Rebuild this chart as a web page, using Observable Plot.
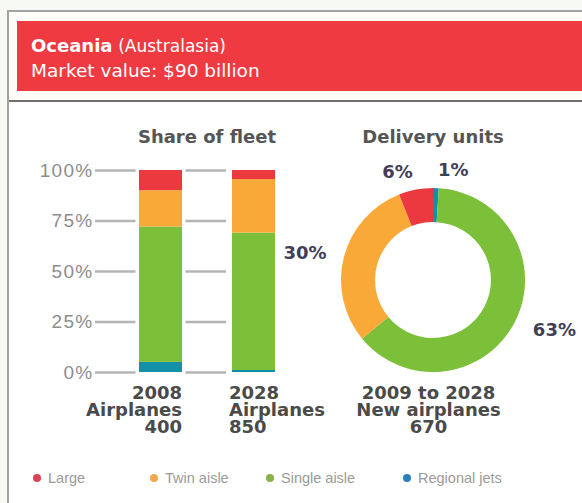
<!DOCTYPE html>
<html><head><meta charset="utf-8">
<script src="https://cdn.jsdelivr.net/npm/d3@7"></script>
<script src="https://cdn.jsdelivr.net/npm/@observablehq/plot@0.6"></script>
<style>
html,body{margin:0;padding:0;background:#f7f9f5;}
#root{position:relative;width:582px;height:503px;overflow:hidden;font-family:"DejaVu Sans",sans-serif;}
#frame{position:absolute;left:7px;top:10px;width:620px;height:540px;border:2px solid #a3a3a3;background:#fdfcf6;}
#panel{position:absolute;left:9px;top:100px;width:620px;height:420px;background:#fff;border-top:2px solid #6f6f6f;}
#header{position:absolute;left:17px;top:21px;width:620px;height:70px;background:#ee3a40;color:#fff;}
#header .l1{position:absolute;left:14px;top:14px;font-size:18px;white-space:nowrap;}
#header .l1 b{font-weight:bold;}
#header .l1 span{font-size:17px;}
#header .l2{position:absolute;left:14px;top:39px;font-size:18.5px;white-space:nowrap;}
.title{position:absolute;top:126px;transform:translateX(-50%);font-weight:bold;font-size:18px;color:#555;white-space:nowrap;}
#bars{position:absolute;left:0;top:110px;}
#bars g[aria-label="y-axis tick label"] text{letter-spacing:1.3px;}
#donut{position:absolute;left:290px;top:110px;}
#legend{position:absolute;left:33px;top:470px;display:grid;grid-template-columns:117px 116px 137px auto;font-family:"Liberation Sans",Arial,sans-serif;font-size:14.5px;color:#9a9a9a;}
#legend .it{display:flex;align-items:center;white-space:nowrap;}
#legend .dot{width:8px;height:8px;border-radius:50%;margin-right:7px;}
svg{overflow:visible;}
</style>
</head><body>
<div id="root">
  <div id="frame"></div>
  <div id="panel"></div>
  <div id="header"><div class="l1"><b>Oceania</b> <span>(Australasia)</span></div><div class="l2">Market value: $90 billion</div></div>
  <div class="title" style="left:207px">Share of fleet</div>
  <div class="title" style="left:433px">Delivery units</div>
  <div id="bars"></div>
  <div id="donut"></div>
  <div id="legend"></div>
</div>
<script>
// ---- data ----
const categories = ["Large", "Twin aisle", "Single aisle", "Regional jets"];
const colors = ["#ec393f", "#f9a937", "#7cbf38", "#138fa8"];
const legendColors = ["#dc4257", "#f2a84e", "#86b24a", "#2a7fbf"];
const years = ["2008", "2028"];
const yearCaptions = ["Airplanes", "Airplanes"];
const fleetCounts = [400, 850];
const share2008 = [10, 18, 67, 5];
const share2028 = [4.5, 26.5, 68, 1];
const yTicks = [0, 25, 50, 75, 100];
const deliveryShare = [6, 30, 63, 1];
const deliveryCaption = ["2009 to 2028", "New airplanes", "670"];

const colorOf = c => colors[categories.indexOf(c)];

// ---- share of fleet (stacked bars) ----
const stackOrder = [...categories].reverse();
const shares = [share2008, share2028];
const rows = years.flatMap((yr, i) => stackOrder.map(c => ({year: yr, category: c, value: shares[i][categories.indexOf(c)]})));
const totals = years.map(yr => ({year: yr, value: 100}));
const barLabels = years.map((yr, i) => ({year: yr, v: 0, text: `${yr}\n${yearCaptions[i]}\n${fleetCounts[i]}`}));
const halfBar = 21;
const barLabelStyle = {x: "year", y: "v", text: "text", lineAnchor: "top", dy: 15, lineHeight: 0.93, fontSize: 18, fontWeight: "bold", fontFamily: "DejaVu Sans, sans-serif", fill: "#4a4a4a"};

const bars = Plot.plot({
  width: 300, height: 330,
  marginTop: 60, marginBottom: 68, marginLeft: 95, marginRight: 74,
  x: {domain: years, range: [138, 275], paddingInner: 0.54, paddingOuter: 0, axis: null},
  y: {domain: [0, 100], axis: null},
  color: {domain: categories, range: colors},
  style: {background: "transparent", overflow: "visible"},
  marks: [
    Plot.ruleY(yTicks, {stroke: "#b4b4b4", strokeWidth: 2.5}),
    Plot.axisY(yTicks, {tickSize: 0, tickPadding: 2, tickFormat: d => `${d}%`, fontSize: 19, fontFamily: "Liberation Sans, Arial, sans-serif", fill: "#8d8d8d", label: null}),
    Plot.barY(totals, {x: "year", y: "value", fill: "white", stroke: "white", strokeWidth: 7}),
    Plot.barY(rows, {x: "year", y: "value", fill: "category"}),
    Plot.text(barLabels.slice(0, 1), {...barLabelStyle, textAnchor: "end", dx: halfBar}),
    Plot.text(barLabels.slice(1), {...barLabelStyle, textAnchor: "start", dx: -halfBar - 4})
  ]
});
document.getElementById("bars").appendChild(bars);

// ---- delivery units (donut) ----
const pieOrder = ["Regional jets", "Single aisle", "Twin aisle", "Large"];
const pieData = pieOrder.map(c => ({category: c, value: deliveryShare[categories.indexOf(c)]}));
const arcs = d3.pie().sort(null).value(d => d.value).startAngle(0).endAngle(2 * Math.PI)(pieData);
const innerRatio = 0.63;
const labelR = 1.2;
const pieLabels = arcs.map(a => {
  const m = (a.startAngle + a.endAngle) / 2;
  return {x: labelR * Math.sin(m), y: labelR * Math.cos(m), text: `${a.data.value}%`, right: Math.sin(m) >= 0};
});

function donutMark(index, scales) {
  const cx = scales.x(0), cy = scales.y(0);
  const r = scales.x(1) - cx;
  const arc = d3.arc().innerRadius(r * innerRatio).outerRadius(r);
  const g = d3.create("svg:g").attr("transform", `translate(${cx},${cy})`);
  g.selectAll("path").data(arcs).join("path").attr("d", arc).attr("fill", d => colorOf(d.data.category));
  return g.node();
}

const labelStyle = {x: "x", y: "y", text: "text", fontSize: 18, fontWeight: "bold", fontFamily: "DejaVu Sans, sans-serif", fill: "#3f3f57"};
const donut = Plot.plot({
  width: 292, height: 330,
  marginTop: 0, marginBottom: 0, marginLeft: 0, marginRight: 0,
  x: {domain: [-1, 1], range: [51, 235], axis: null},
  y: {domain: [-1, 1], range: [262, 78], axis: null},
  style: {background: "transparent", overflow: "visible"},
  marks: [
    donutMark,
    Plot.text(pieLabels.filter(d => d.right), {...labelStyle, textAnchor: "start", dx: 1}),
    Plot.text(pieLabels.filter(d => !d.right), {...labelStyle, textAnchor: "end"}),
    Plot.text([{x: 0, y: -1, text: deliveryCaption.join("\n")}], {x: "x", y: "y", text: "text", lineAnchor: "top", dx: -5, dy: 15, lineHeight: 0.93, fontSize: 18, fontWeight: "bold", fontFamily: "DejaVu Sans, sans-serif", fill: "#4a4a4a"})
  ]
});
document.getElementById("donut").appendChild(donut);

// ---- legend ----
const legend = d3.select("#legend");
categories.forEach((c, i) => {
  const it = legend.append("div").attr("class", "it");
  it.append("div").attr("class", "dot").style("background", legendColors[i]);
  it.append("span").text(c);
});
</script>
</body></html>
